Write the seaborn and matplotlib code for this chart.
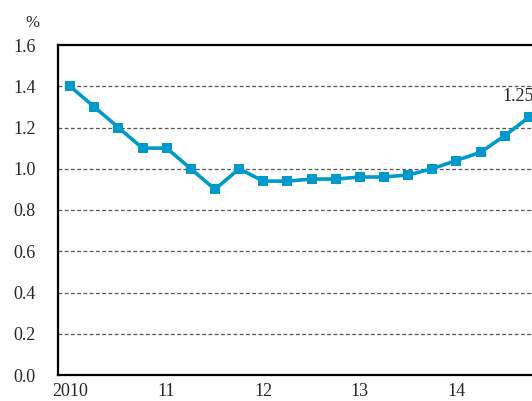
import matplotlib

matplotlib.use("Agg")

import matplotlib.pyplot as plt
import pandas as pd
import seaborn as sns

# quarterly series, 2010 Q1 .. 2014 Q4
quarters = list(range(20))
values = [1.40, 1.30, 1.20, 1.10, 1.10, 1.00, 0.90, 1.00,
          0.94, 0.94, 0.95, 0.95, 0.96, 0.96, 0.97, 1.00,
          1.04, 1.08, 1.16, 1.25]
year_labels = ["2010", "11", "12", "13", "14"]
y_ticks = [0.0, 0.2, 0.4, 0.6, 0.8, 1.0, 1.2, 1.4, 1.6]

LINE_COLOR = "#0099cc"

sns.set_theme(style="white")
plt.rcParams["font.family"] = ["Liberation Serif", "DejaVu Serif"]

df = pd.DataFrame({"q": quarters, "value": values})

fig = plt.figure(figsize=(5.32, 4.01), dpi=100)
ax = fig.add_axes([58 / 532, 26 / 401, 495 / 532, 330 / 401])

sns.lineplot(data=df, x="q", y="value", ax=ax, color=LINE_COLOR, linewidth=2.6,
             marker="s", markersize=7.5, markeredgewidth=0, markerfacecolor=LINE_COLOR)

ax.set_xlim(-0.5, 20.0)
ax.set_ylim(0, 1.6)
ax.set_yticks(y_ticks)
ax.set_yticklabels([f"{t:.1f}" for t in y_ticks], fontsize=13)

ax.set_xticks([q for q in quarters if q % 4 == 0])
ax.set_xticklabels(year_labels, fontsize=13)
ax.set_xticks([-0.5, 3.5, 7.5, 11.5, 15.5], minor=True)
ax.tick_params(axis="x", which="major", length=0, pad=6)
ax.tick_params(axis="x", which="minor", direction="in", length=5, width=1.2, color="black")
ax.tick_params(axis="y", direction="in", length=4, width=1, color="black", pad=16)

for t in y_ticks[1:-1]:
    ax.axhline(t, color="#555555", linestyle=(0, (3, 2)), linewidth=0.9, zorder=0)

for side in ["left", "bottom", "top", "right"]:
    ax.spines[side].set_color("black")
    ax.spines[side].set_linewidth(1.6)

ax.set_xlabel("")
ax.set_ylabel("")

ax.annotate(f"{values[-1]:.2f}", (quarters[-1], values[-1]), xytext=(-8, 9),
            textcoords="offset points", ha="center", va="bottom", fontsize=13)

fig.text(32 / 532, 1 - 23 / 401, "%", ha="center", va="center", fontsize=12)

fig.savefig("out.png", dpi=100)
